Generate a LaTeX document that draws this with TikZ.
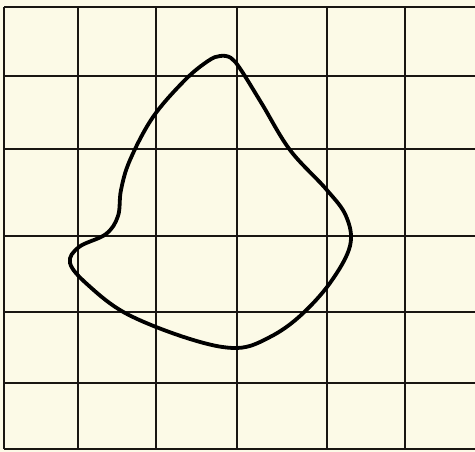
\documentclass[tikz,border=0pt]{standalone}
\definecolor{paper}{RGB}{252,250,231}
\definecolor{ink}{RGB}{25,22,18}
\tikzset{
  gridline/.style={draw=ink, line width=1.6pt},
  blob/.style={draw=black, line width=3.8pt, line join=round}
}
\begin{document}
\begin{tikzpicture}[x=1pt,y=-1pt]
\fill[paper] (0,0) rectangle (475,452);
\useasboundingbox (0,0) rectangle (475,452);
% vertical grid lines
\foreach \x in {4,78,156,237,327,405}
  \draw[gridline] (\x,7) -- (\x,449);
% horizontal grid lines
\foreach \y in {7,76,149,236,312,383,449}
  \draw[gridline] (4,\y) -- (475,\y);
% closed curve
\draw[blob] plot[smooth cycle, tension=0.6] coordinates {
  (220,56) (231,58) (241,70) (262,104) (290,150) (326,189) (346,216)
  (350,246) (330,283) (300,316) (270,337) (237,348) (190,339)
  (127,314) (88,285) (70,263) (79,247) (106,234) (118,216)
  (121,190) (130,160) (153,117) (185,80) (208,61)
};
\end{tikzpicture}
\end{document}
